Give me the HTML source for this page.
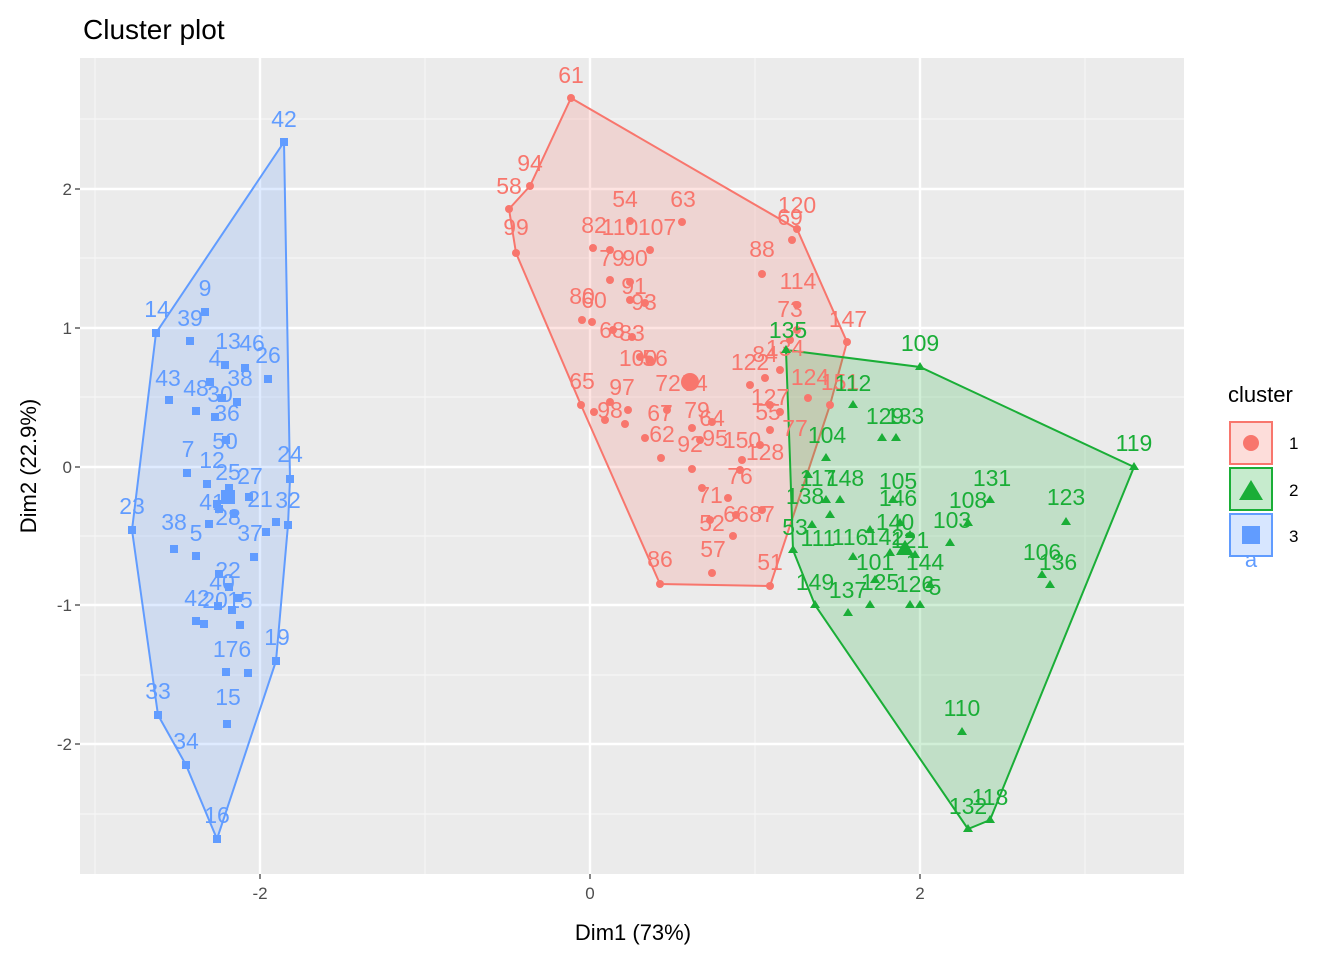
<!DOCTYPE html>
<html><head><meta charset="utf-8"><style>
body{margin:0;background:#fff;}
svg text{font-family:"Liberation Sans",Arial,sans-serif;}
.r{fill:#F8766D}.g{fill:#1AAE37}.b{fill:#619CFF}
.lr text{fill:#F8766D;font-size:23px;text-anchor:middle}
.lg text{fill:#1AAE37;font-size:23px;text-anchor:middle}
.lb text{fill:#619CFF;font-size:23px;text-anchor:middle}
</style></head><body>
<svg width="1344" height="960" xmlns="http://www.w3.org/2000/svg">
<rect x="80" y="58" width="1104" height="816" fill="#EBEBEB"/>
<g stroke="#F5F5F5" stroke-width="1.2">
<line x1="95" y1="58" x2="95" y2="874"/><line x1="425" y1="58" x2="425" y2="874"/><line x1="755" y1="58" x2="755" y2="874"/><line x1="1085" y1="58" x2="1085" y2="874"/>
<line x1="80" y1="119" x2="1184" y2="119"/><line x1="80" y1="258" x2="1184" y2="258"/><line x1="80" y1="397" x2="1184" y2="397"/><line x1="80" y1="536" x2="1184" y2="536"/><line x1="80" y1="675" x2="1184" y2="675"/><line x1="80" y1="814" x2="1184" y2="814"/>
</g>
<g stroke="#fff" stroke-width="2.4">
<line x1="260" y1="58" x2="260" y2="874"/><line x1="590" y1="58" x2="590" y2="874"/><line x1="920" y1="58" x2="920" y2="874"/>
<line x1="80" y1="189" x2="1184" y2="189"/><line x1="80" y1="328" x2="1184" y2="328"/><line x1="80" y1="467" x2="1184" y2="467"/><line x1="80" y1="605" x2="1184" y2="605"/><line x1="80" y1="744" x2="1184" y2="744"/>
</g>
<polygon points="284,142 156,333 132,530 158,715 186,765 217,839 276,661 288,525 290,479" fill="#619CFF" fill-opacity="0.2" stroke="#619CFF" stroke-width="2"/>
<polygon points="571,98 797,229 847,342 830,405 770,586 660,584 581,405 516,253 509,209 530,186" fill="#F8766D" fill-opacity="0.2" stroke="#F8766D" stroke-width="2"/>
<polygon points="786,350 920,367 1134,467 990,820 968,829 815,605 793,550 790,460" fill="#1AAE37" fill-opacity="0.2" stroke="#1AAE37" stroke-width="2"/>
<!-- blue points -->
<g class="b">
<rect x="280" y="138" width="8" height="8"/><rect x="201" y="308" width="8" height="8"/><rect x="152" y="329" width="8" height="8"/><rect x="186" y="337" width="8" height="8"/><rect x="221" y="361" width="8" height="8"/><rect x="241" y="364" width="8" height="8"/><rect x="264" y="375" width="8" height="8"/><rect x="206" y="378" width="8" height="8"/><rect x="165" y="396" width="8" height="8"/><rect x="192" y="407" width="8" height="8"/><rect x="218" y="394" width="8" height="8"/><rect x="233" y="398" width="8" height="8"/><rect x="211" y="413" width="8" height="8"/><rect x="222" y="436" width="8" height="8"/><rect x="183" y="469" width="8" height="8"/><rect x="203" y="480" width="8" height="8"/><rect x="225" y="484" width="8" height="8"/><rect x="245" y="493" width="8" height="8"/><rect x="286" y="475" width="8" height="8"/><rect x="284" y="521" width="8" height="8"/><rect x="128" y="526" width="8" height="8"/><rect x="170" y="545" width="8" height="8"/><rect x="192" y="552" width="8" height="8"/><rect x="213" y="500" width="8" height="8"/><rect x="230" y="510" width="8" height="8"/><rect x="250" y="553" width="8" height="8"/><rect x="262" y="528" width="8" height="8"/><rect x="272" y="518" width="8" height="8"/><rect x="215" y="570" width="8" height="8"/><rect x="225" y="583" width="8" height="8"/><rect x="234" y="594" width="8" height="8"/><rect x="192" y="617" width="8" height="8"/><rect x="200" y="620" width="8" height="8"/><rect x="228" y="606" width="8" height="8"/><rect x="214" y="602" width="8" height="8"/><rect x="236" y="621" width="8" height="8"/><rect x="272" y="657" width="8" height="8"/><rect x="222" y="668" width="8" height="8"/><rect x="244" y="669" width="8" height="8"/><rect x="154" y="711" width="8" height="8"/><rect x="182" y="761" width="8" height="8"/><rect x="223" y="720" width="8" height="8"/><rect x="213" y="835" width="8" height="8"/><rect x="215" y="505" width="8" height="8"/><rect x="205" y="520" width="8" height="8"/>
<rect x="221" y="490" width="14" height="14"/>
</g>
<g class="lb">
<text x="284" y="127">42</text><text x="205" y="296">9</text><text x="157" y="317">14</text><text x="190" y="326">39</text><text x="228" y="349">13</text><text x="252" y="351">46</text><text x="268" y="363">26</text><text x="215" y="366">4</text><text x="168" y="386">43</text><text x="196" y="396">48</text><text x="240" y="386">38</text><text x="220" y="402">30</text><text x="227" y="421">36</text><text x="225" y="449">50</text><text x="188" y="457">7</text><text x="212" y="468">12</text><text x="250" y="484">27</text><text x="290" y="462">24</text><text x="228" y="480">25</text><text x="132" y="514">23</text><text x="212" y="510">41</text><text x="260" y="507">21</text><text x="288" y="508">32</text><text x="174" y="530">38</text><text x="196" y="541">5</text><text x="250" y="541">37</text><text x="228" y="525">28</text><text x="228" y="578">22</text><text x="222" y="590">40</text><text x="197" y="606">42</text><text x="215" y="608">20</text><text x="240" y="608">15</text><text x="277" y="645">19</text><text x="232" y="657">176</text><text x="158" y="699">33</text><text x="186" y="749">34</text><text x="228" y="705">15</text><text x="217" y="823">16</text>
</g>
<!-- red points -->
<g class="r">
<circle cx="571" cy="98" r="4"/><circle cx="530" cy="186" r="4"/><circle cx="509" cy="209" r="4"/><circle cx="516" cy="253" r="4"/><circle cx="630" cy="221" r="4"/><circle cx="682" cy="222" r="4"/><circle cx="593" cy="248" r="4"/><circle cx="610" cy="250" r="4"/><circle cx="650" cy="250" r="4"/><circle cx="610" cy="280" r="4"/><circle cx="630" cy="282" r="4"/><circle cx="630" cy="300" r="4"/><circle cx="582" cy="320" r="4"/><circle cx="592" cy="322" r="4"/><circle cx="645" cy="303" r="4"/><circle cx="613" cy="330" r="4"/><circle cx="632" cy="337" r="4"/><circle cx="640" cy="357" r="4"/><circle cx="650" cy="360" r="4"/><circle cx="581" cy="405" r="4"/><circle cx="610" cy="402" r="4"/><circle cx="628" cy="410" r="4"/><circle cx="594" cy="412" r="4"/><circle cx="605" cy="420" r="4"/><circle cx="625" cy="424" r="4"/><circle cx="645" cy="438" r="4"/><circle cx="667" cy="410" r="4"/><circle cx="661" cy="458" r="4"/><circle cx="692" cy="428" r="4"/><circle cx="700" cy="440" r="4"/><circle cx="712" cy="422" r="4"/><circle cx="692" cy="469" r="4"/><circle cx="702" cy="488" r="4"/><circle cx="728" cy="498" r="4"/><circle cx="740" cy="470" r="4"/><circle cx="742" cy="460" r="4"/><circle cx="750" cy="385" r="4"/><circle cx="762" cy="274" r="4"/><circle cx="797" cy="229" r="4"/><circle cx="792" cy="240" r="4"/><circle cx="797" cy="305" r="4"/><circle cx="797" cy="330" r="4"/><circle cx="847" cy="342" r="4"/><circle cx="765" cy="378" r="4"/><circle cx="780" cy="370" r="4"/><circle cx="790" cy="340" r="4"/><circle cx="770" cy="405" r="4"/><circle cx="780" cy="412" r="4"/><circle cx="808" cy="398" r="4"/><circle cx="830" cy="405" r="4"/><circle cx="770" cy="430" r="4"/><circle cx="760" cy="445" r="4"/><circle cx="736" cy="515" r="4"/><circle cx="762" cy="510" r="4"/><circle cx="710" cy="520" r="4"/><circle cx="733" cy="536" r="4"/><circle cx="712" cy="573" r="4"/><circle cx="660" cy="584" r="4"/><circle cx="770" cy="586" r="4"/><circle cx="690" cy="382" r="9"/>
</g>
<g class="lr">
<text x="571" y="83">61</text><text x="530" y="171">94</text><text x="509" y="194">58</text><text x="516" y="235">99</text><text x="625" y="207">54</text><text x="683" y="207">63</text><text x="594" y="233">82</text><text x="620" y="235">110</text><text x="657" y="235">107</text><text x="612" y="266">79</text><text x="635" y="266">90</text><text x="634" y="294">91</text><text x="582" y="304">80</text><text x="594" y="308">60</text><text x="644" y="310">93</text><text x="612" y="338">68</text><text x="632" y="341">83</text><text x="638" y="366">100</text><text x="655" y="366">56</text><text x="582" y="389">65</text><text x="622" y="395">97</text><text x="668" y="391">72</text><text x="695" y="391">74</text><text x="610" y="418">98</text><text x="660" y="421">67</text><text x="697" y="418">79</text><text x="712" y="426">64</text><text x="662" y="442">62</text><text x="690" y="452">92</text><text x="715" y="446">95</text><text x="742" y="448">150</text><text x="765" y="460">128</text><text x="740" y="484">76</text><text x="710" y="503">71</text><text x="712" y="531">52</text><text x="736" y="522">66</text><text x="762" y="522">87</text><text x="713" y="557">57</text><text x="660" y="567">86</text><text x="770" y="570">51</text><text x="762" y="257">88</text><text x="797" y="213">120</text><text x="790" y="225">69</text><text x="798" y="289">114</text><text x="790" y="317">73</text><text x="848" y="327">147</text><text x="765" y="362">84</text><text x="785" y="356">134</text><text x="750" y="370">122</text><text x="810" y="385">124</text><text x="840" y="390">151</text><text x="770" y="405">127</text><text x="768" y="420">55</text><text x="795" y="436">77</text>
</g>
<!-- green points -->
<g class="g">
<path d="M786,345 l-5,8 h10z"/><path d="M920,362 l-5,8 h10z"/><path d="M1134,462 l-5,8 h10z"/><path d="M990,815 l-5,8 h10z"/><path d="M968,824 l-5,8 h10z"/><path d="M853,400 l-5,8 h10z"/><path d="M882,433 l-5,8 h10z"/><path d="M896,433 l-5,8 h10z"/><path d="M826,453 l-5,8 h10z"/><path d="M808,470 l-5,8 h10z"/><path d="M826,495 l-5,8 h10z"/><path d="M840,495 l-5,8 h10z"/><path d="M893,495 l-5,8 h10z"/><path d="M990,495 l-5,8 h10z"/><path d="M1066,517 l-5,8 h10z"/><path d="M968,518 l-5,8 h10z"/><path d="M950,538 l-5,8 h10z"/><path d="M900,518 l-5,8 h10z"/><path d="M910,530 l-5,8 h10z"/><path d="M870,525 l-5,8 h10z"/><path d="M853,552 l-5,8 h10z"/><path d="M812,520 l-5,8 h10z"/><path d="M793,545 l-5,8 h10z"/><path d="M905,540 l-5,8 h10z"/><path d="M915,550 l-5,8 h10z"/><path d="M890,548 l-5,8 h10z"/><path d="M875,575 l-5,8 h10z"/><path d="M930,580 l-5,8 h10z"/><path d="M920,600 l-5,8 h10z"/><path d="M910,600 l-5,8 h10z"/><path d="M870,600 l-5,8 h10z"/><path d="M848,608 l-5,8 h10z"/><path d="M815,600 l-5,8 h10z"/><path d="M1042,570 l-5,8 h10z"/><path d="M1050,580 l-5,8 h10z"/><path d="M962,727 l-5,8 h10z"/><path d="M830,510 l-5,8 h10z"/>
<path d="M905,540 l-9,15 h18z"/>
</g>
<g class="lg">
<text x="788" y="338">135</text><text x="920" y="351">109</text><text x="1134" y="451">119</text><text x="853" y="391">112</text><text x="885" y="424">129</text><text x="905" y="424">133</text><text x="827" y="443">104</text><text x="818" y="486">117</text><text x="845" y="486">148</text><text x="805" y="504">138</text><text x="898" y="489">105</text><text x="898" y="506">146</text><text x="992" y="486">131</text><text x="968" y="508">108</text><text x="1066" y="505">123</text><text x="952" y="528">103</text><text x="895" y="530">140</text><text x="850" y="545">116</text><text x="885" y="545">142</text><text x="795" y="535">53</text><text x="818" y="546">111</text><text x="910" y="548">121</text><text x="875" y="570">101</text><text x="925" y="570">144</text><text x="1042" y="560">106</text><text x="1058" y="570">136</text><text x="815" y="590">149</text><text x="848" y="598">137</text><text x="880" y="590">125</text><text x="915" y="592">126</text><text x="935" y="595">5</text><text x="962" y="716">110</text><text x="990" y="805">118</text><text x="968" y="814">132</text>
</g>
<!-- axes -->
<g fill="#4D4D4D" font-size="17" text-anchor="end">
<text x="72" y="195">2</text><text x="72" y="334">1</text><text x="72" y="473">0</text><text x="72" y="611">-1</text><text x="72" y="750">-2</text>
</g>
<g stroke="#333" stroke-width="1.2">
<line x1="75" y1="189" x2="80" y2="189"/><line x1="75" y1="328" x2="80" y2="328"/><line x1="75" y1="467" x2="80" y2="467"/><line x1="75" y1="605" x2="80" y2="605"/><line x1="75" y1="744" x2="80" y2="744"/>
<line x1="260" y1="874" x2="260" y2="879"/><line x1="590" y1="874" x2="590" y2="879"/><line x1="920" y1="874" x2="920" y2="879"/>
</g>
<g fill="#4D4D4D" font-size="17" text-anchor="middle">
<text x="260" y="899">-2</text><text x="590" y="899">0</text><text x="920" y="899">2</text>
</g>
<text x="633" y="940" font-size="22" text-anchor="middle" fill="#000">Dim1 (73%)</text>
<text transform="translate(36,466) rotate(-90)" font-size="22" text-anchor="middle" fill="#000">Dim2 (22.9%)</text>
<text x="83" y="39" font-size="28" fill="#000">Cluster plot</text>
<!-- legend -->
<text x="1228" y="402" font-size="22" fill="#000">cluster</text>
<rect x="1230" y="422" width="42" height="42" fill="#F8766D" fill-opacity="0.25" stroke="#F8766D" stroke-width="2"/>
<circle cx="1251" cy="443" r="8" fill="#F8766D"/>
<rect x="1230" y="468" width="42" height="42" fill="#1AAE37" fill-opacity="0.25" stroke="#1AAE37" stroke-width="2"/>
<path d="M1251,480 l-12,20 h24z" fill="#1AAE37"/>
<rect x="1230" y="514" width="42" height="42" fill="#619CFF" fill-opacity="0.25" stroke="#619CFF" stroke-width="2"/>
<rect x="1242" y="526" width="18" height="18" fill="#619CFF"/>
<text x="1251" y="567" font-size="22" fill="#619CFF" text-anchor="middle">a</text>
<g font-size="17" fill="#000"><text x="1289" y="449">1</text><text x="1289" y="496">2</text><text x="1289" y="542">3</text></g>
</svg>
</body></html>
